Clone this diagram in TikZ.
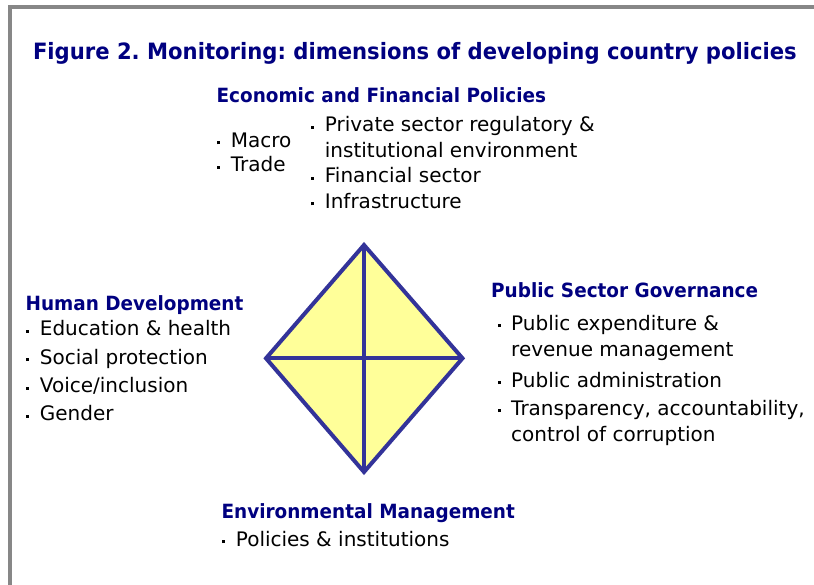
\documentclass[tikz,border=0pt]{standalone}
\usepackage{fontspec}
\setmainfont{DejaVu Sans}
\newfontfamily\headfont{DejaVu Sans}[FakeStretch=0.94]
\usepackage{xcolor}
\usepackage{tikz}
\usetikzlibrary{positioning}
\frenchspacing
\definecolor{monnavy}{HTML}{000080}
\definecolor{monrim}{HTML}{333399}
\definecolor{monfill}{HTML}{FFFF99}
\definecolor{monframe}{HTML}{878787}
\newcommand{\itm}{\llap{\raisebox{3pt}{\rule{3pt}{3pt}}\hspace{10.5pt}}}

\begin{document}
\begin{tikzpicture}[x=1pt,y=-1pt,
  ttl/.style={font=\headfont\bfseries\fontsize{22.5}{27}\selectfont,text=monnavy,inner sep=0pt,anchor=base west},
  head/.style={font=\headfont\bfseries\fontsize{19.6}{24}\selectfont,text=monnavy,inner sep=0pt,anchor=base west},
  list/.style={align=left,inner sep=0pt},
  rim/.style={draw=monrim,line width=4pt,line join=miter}]
  \useasboundingbox (0,0) rectangle (814,585);
  % frame
  \draw[monframe,line width=4pt,line join=miter] (10,585) -- (10,7.3) -- (814,7.3);
  \node[ttl] (title) at (32.8,59.5) {Figure 2. Monitoring: dimensions of developing country policies};
  % diamond
  \coordinate (dtop) at (364,245);
  \coordinate (dbot) at (364,472);
  \coordinate (dleft) at (266,358.3);
  \coordinate (dright) at (462.5,358.3);
  \fill[monfill] (dtop) -- (dright) -- (dbot) -- (dleft) -- cycle;
  \draw[rim] (dtop) -- (dbot);
  \draw[rim] (dleft) -- (dright);
  \draw[rim] (dtop) -- (dright) -- (dbot) -- (dleft) -- cycle;
  % headings
  \node[head] (hdecon) at (216.4,102.3) {Economic and Financial Policies};
  \node[head] (hdhuman) at (25.4,310.7) {Human Development};
  \node[head] (hdpublic) at (491,297.7) {Public Sector Governance};
  \node[head] (hdenv) at (221.4,518.3) {Environmental Management};
  % lists
  \node[list,font=\fontsize{20}{24.5}\selectfont,below right=27.85pt and 14.3pt of hdecon.base west] (lsmacro)
    {\strut\itm Macro\\ \itm Trade};
  \node[list,font=\fontsize{20}{25.5}\selectfont,below right=11.55pt and 108.3pt of hdecon.base west] (lssector)
    {\strut\itm Private sector regulatory \&\\ institutional environment\\ \itm Financial sector\\ \itm Infrastructure};
  \node[list,font=\fontsize{20}{28.3}\selectfont,below right=5.2pt and 14.3pt of hdhuman.base west] (lshuman)
    {\strut\itm Education \& health\\ \itm Social protection\\ \itm Voice/inclusion\\ \itm Gender};
  \node[list,font=\fontsize{20}{26}\selectfont,below right=14.1pt and 20pt of hdpublic.base west] (lspublic)
    {\strut\itm Public expenditure \&\\ revenue management\\[5pt] \itm Public administration\\[2pt] \itm Transparency, accountability,\\ control of corruption};
  \node[list,font=\fontsize{20}{26}\selectfont,below right=9.5pt and 14.3pt of hdenv.base west] (lsenv)
    {\strut\itm Policies \& institutions};
\end{tikzpicture}
\end{document}
